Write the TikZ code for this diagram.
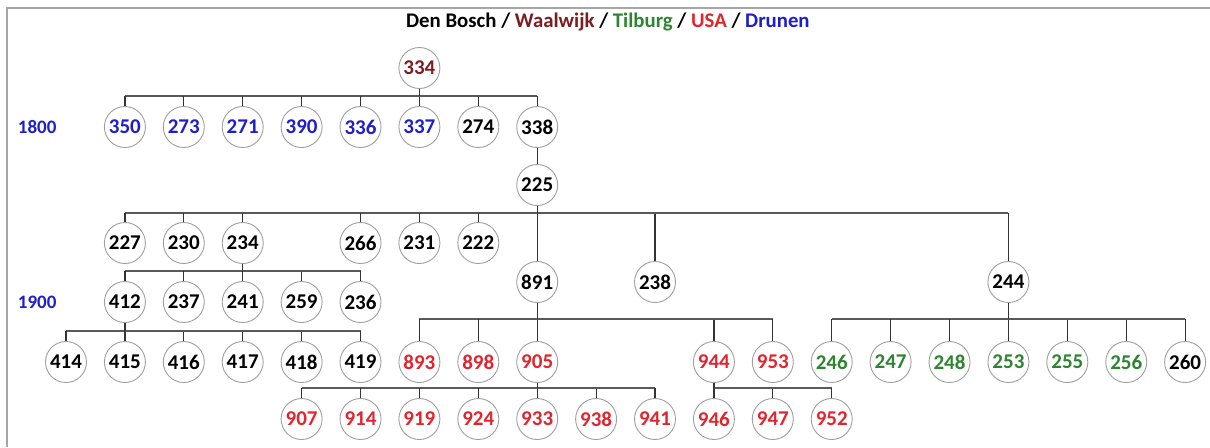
\documentclass[tikz,border=0pt]{standalone}
\usepackage{fontspec}
\setmainfont{Carlito}
\usepackage{tikz}

\definecolor{waal}{HTML}{7A1E22}
\definecolor{tilb}{HTML}{2E8431}
\definecolor{usa}{HTML}{E1252E}
\definecolor{drun}{HTML}{1E1ECC}

\begin{document}
\begin{tikzpicture}[
        x=29.45pt, y=-0.5pt,
        person/.style={circle, draw=gray!75, line width=0.45pt, fill=white,
            minimum size=20.5pt, inner sep=0pt,
            font=\bfseries\fontsize{10.5}{12}\selectfont},
        link/.style={draw=black!80, line width=0.6pt},
        bar/.style={draw=black!65, line width=0.9pt},
        year/.style={text=drun, font=\bfseries\fontsize{9.5}{11}\selectfont},
    ]
    \useasboundingbox (-0.1205, 0) rectangle (20.4225, 447);
    \draw [gray!70, line width=1pt] (0, 447) -- (0, 8) -- (20.5, 8);

    \node (title) at (10.2, 22) {\bfseries\fontsize{10.4}{12}\selectfont
        Den Bosch / \textcolor{waal}{Waalwijk} / \textcolor{tilb}{Tilburg}
        / \textcolor{usa}{USA} / \textcolor{drun}{Drunen}};
    \node [year] (y1800) at (0.51, 127) {1800};
    \node [year] (y1900) at (0.51, 302) {1900};

    % persons: column / number / colour, one row per generation
    \foreach \y/\row in {
        68/{7/334/waal},
        127/{2/350/drun, 3/273/drun, 4/271/drun, 5/390/drun, 6/336/drun,
            7/337/drun, 8/274/black, 9/338/black},
        185/{9/225/black},
        243/{2/227/black, 3/230/black, 4/234/black, 6/266/black,
            7/231/black, 8/222/black},
        282/{9/891/black, 11/238/black, 17/244/black},
        302/{2/412/black, 3/237/black, 4/241/black, 5/259/black, 6/236/black},
        362/{1/414/black, 2/415/black, 3/416/black, 4/417/black, 5/418/black,
            6/419/black, 7/893/usa, 8/898/usa, 9/905/usa, 12/944/usa,
            13/953/usa, 14/246/tilb, 15/247/tilb, 16/248/tilb, 17/253/tilb,
            18/255/tilb, 19/256/tilb, 20/260/black},
        419/{5/907/usa, 6/914/usa, 7/919/usa, 8/924/usa, 9/933/usa,
            10/938/usa, 11/941/usa, 12/946/usa, 13/947/usa, 14/952/usa}} {
        \foreach \c/\n/\clr in \row {
            \node [person, text=\clr] (n\n) at (\c, \y) {\n};
        }
    }

    % families: parent / height of the bar / children
    \foreach \p/\b/\kids in {
        334/96/{350, 273, 271, 390, 336, 337, 274, 338},
        338/156/{225},
        225/213/{227, 230, 234, 266, 231, 222, 891, 238, 244},
        234/271/{412, 237, 241, 259, 236},
        412/331/{414, 415, 416, 417, 418, 419},
        891/319/{893, 898, 905, 944, 953},
        244/319/{246, 247, 248, 253, 255, 256, 260},
        905/388/{907, 914, 919, 924, 933, 938, 941},
        944/388/{946, 947, 952}} {
        \coordinate (bar) at (0, \b);
        \foreach \k in \kids {
            \draw [bar] (n\p |- bar) -- (n\k |- bar);
            \draw [link] (n\k |- bar) -- (n\k.north);
        }
        \draw [link] (n\p.south) -- (n\p |- bar);
    }
\end{tikzpicture}
\end{document}
